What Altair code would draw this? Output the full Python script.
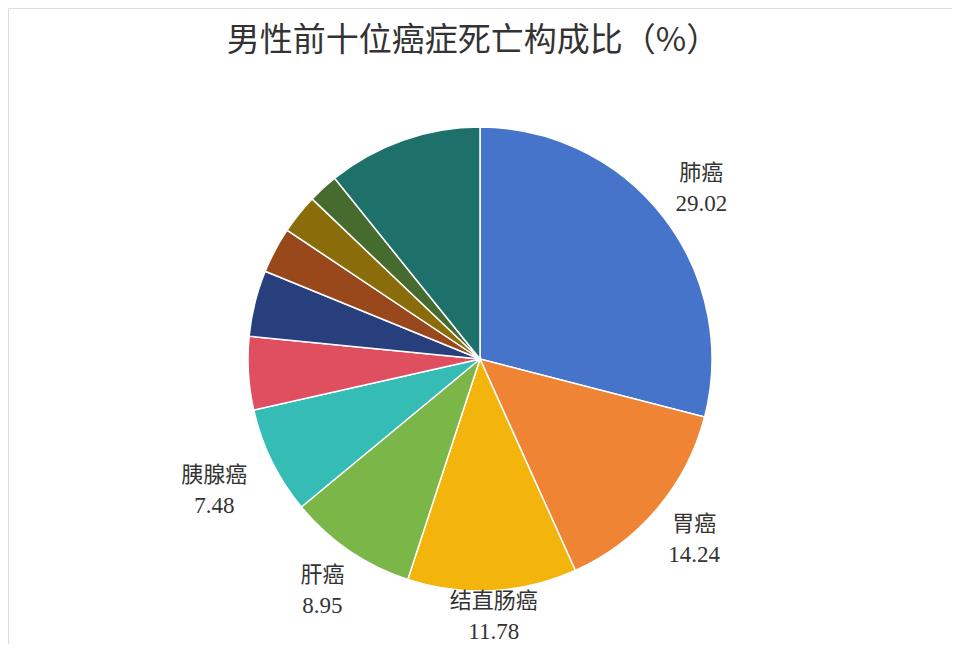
import altair as alt
import pandas as pd

title_text = "男性前十位癌症死亡构成比（%）"
names = ["肺癌", "胃癌", "结直肠癌", "肝癌", "胰腺癌", "食管癌", "前列腺癌", "脑瘤", "白血病", "淋巴瘤", "其他"]
values = [29.02, 14.24, 11.78, 8.95, 7.48, 5.1, 4.6, 3.2, 2.75, 2.1, 10.78]
shown = [True, True, True, True, True, False, False, False, False, False, False]
colors = ["#4674CB", "#EF8434", "#F3B50C", "#7AB648", "#35BDB5", "#E04F5F",
          "#283F7D", "#98481A", "#8A6D0A", "#456B2E", "#1E716B"]
label_radius = [280, 280, 257, 280, 296, 0, 0, 0, 0, 0, 0]

df = pd.DataFrame({
    "name": names,
    "value": values,
    "idx": list(range(len(names))),
    "shown": shown,
    "lr": label_radius,
})
df["num"] = [f"{v:.2f}" if s else "" for v, s in zip(values, shown)]
df["lab"] = [n if s else "" for n, s in zip(names, shown)]

CX, CY = 472, 351
TOTAL = float(sum(values))
theta_scale = alt.Scale(domain=[0, TOTAL], range=[0, 6.283185307179586])

pie = alt.Chart(df).mark_arc(outerRadius=232, stroke="white", strokeWidth=1.5).encode(
    theta=alt.Theta("value:Q", stack=True, scale=theta_scale),
    order=alt.Order("idx:Q"),
    color=alt.Color("name:N", scale=alt.Scale(domain=names, range=colors), legend=None),
    x=alt.value(CX),
    y=alt.value(CY),
)

lab_base = alt.Chart(df).transform_window(
    cum="sum(value)", sort=[alt.SortField("idx")], frame=[None, 0]
).transform_calculate(
    mid="datum.cum - datum.value / 2"
).transform_filter("datum.shown").encode(
    theta=alt.Theta("mid:Q", stack=None, scale=theta_scale),
    radius=alt.Radius("lr:Q", scale=None),
    x=alt.value(CX),
    y=alt.value(CY),
)

name_text = lab_base.mark_text(font="Noto Sans CJK SC", fontSize=22, color="#333333",
                               align="center", baseline="middle", dy=-15).encode(text="lab:N")

num_text = lab_base.mark_text(font="Liberation Serif", fontSize=23, color="#333333",
                              align="center", baseline="middle", dy=16).encode(text="num:N")

title = alt.Chart(pd.DataFrame({"t": [title_text]})).mark_text(
    font="Noto Sans CJK SC", fontSize=33, color="#333333", align="center", baseline="middle"
).encode(text="t:N", x=alt.value(465), y=alt.value(33))

chart = alt.layer(pie, name_text, num_text, title).properties(
    width=944, height=636, autosize=alt.AutoSizeParams(type="none"), padding=0
).configure_view(stroke="#A0A0A0", strokeWidth=2).configure(background="white")

chart.save("out.html", embed_options={"renderer": "svg", "actions": False})
